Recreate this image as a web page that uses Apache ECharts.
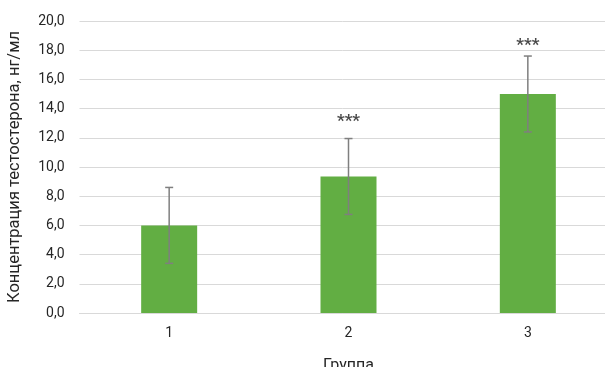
<!DOCTYPE html>
<html>
<head>
<meta charset="utf-8">
<script src="https://cdn.jsdelivr.net/npm/echarts@6/dist/echarts.min.js"></script>
<style>html,body{margin:0;padding:0;background:#fff;}#c{width:605px;height:367px;}</style>
</head>
<body>
<div id="c"></div>
<script>
var categories = ['1', '2', '3'];
var means = [6.0, 9.35, 15.0];
var errors = [2.6, 2.6, 2.6];
var stars = ['', '***', '***'];
var starValues = [null, 13.4, 18.55];

var chart = echarts.init(document.getElementById('c'));
var font = 'Roboto, "Noto Sans", sans-serif';
chart.setOption({
  animation: false,
  textStyle: { fontFamily: font },
  grid: { left: 79.5, top: 21, width: 538, height: 292, containLabel: false, outerBoundsMode: 'none' },
  xAxis: {
    type: 'category',
    data: categories,
    name: 'Группа',
    nameLocation: 'middle',
    nameGap: 45,
    nameTextStyle: { fontSize: 16, color: '#262626', fontFamily: font },
    axisLine: { lineStyle: { color: '#d9d9d9', width: 1 } },
    axisTick: { show: false },
    axisLabel: { fontSize: 14, color: '#262626', margin: 13, fontFamily: font }
  },
  yAxis: {
    type: 'value',
    min: 0, max: 20, interval: 2,
    name: 'Концентрация тестостерона, нг/мл',
    nameLocation: 'middle',
    nameGap: 56,
    nameTextStyle: { fontSize: 16.5, color: '#262626', fontFamily: font },
    axisLine: { show: false },
    axisTick: { show: false },
    splitLine: { lineStyle: { color: '#d9d9d9', width: 1 } },
    axisLabel: {
      fontSize: 14, color: '#262626', margin: 15, fontFamily: font,
      formatter: function (v) { return v.toFixed(1).replace('.', ','); }
    }
  },
  series: [
    {
      type: 'bar',
      data: means,
      barWidth: 56,
      itemStyle: { color: '#62ae43' }
    },
    {
      type: 'custom',
      z: 5,
      data: means.map(function (m, i) { return [i, m - errors[i], m + errors[i]]; }),
      renderItem: function (params, api) {
        var lo = api.coord([api.value(0), api.value(1)]);
        var hi = api.coord([api.value(0), api.value(2)]);
        var cw = 4;
        var st = { stroke: '#7f7f7f', lineWidth: 1.5 };
        return {
          type: 'group',
          children: [
            { type: 'line', shape: { x1: hi[0], y1: hi[1], x2: lo[0], y2: lo[1] }, style: st },
            { type: 'line', shape: { x1: hi[0] - cw, y1: hi[1], x2: hi[0] + cw, y2: hi[1] }, style: st },
            { type: 'line', shape: { x1: lo[0] - cw, y1: lo[1], x2: lo[0] + cw, y2: lo[1] }, style: st }
          ]
        };
      }
    },
    {
      type: 'scatter',
      symbolSize: 0,
      data: starValues.map(function (v, i) { return v === null ? null : { value: [i, v], label: { formatter: stars[i] } }; }),
      label: {
        show: true,
        position: 'inside',
        offset: [0, 4],
        fontSize: 17,
        fontWeight: 'bold',
        color: '#1a1a1a',
        fontFamily: font
      }
    }
  ]
});
</script>
</body>
</html>
